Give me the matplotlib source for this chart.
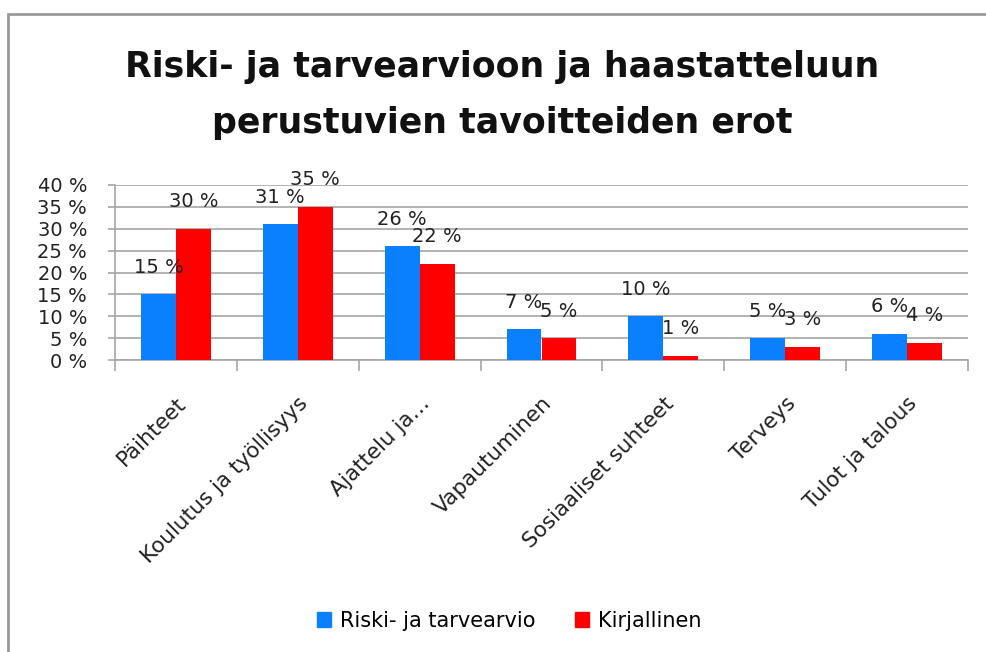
import matplotlib
matplotlib.use("Agg")
import matplotlib.pyplot as plt
from matplotlib.patches import Rectangle, Patch
import numpy as np

categories = ["Päihteet", "Koulutus ja työllisyys", "Ajattelu ja…", "Vapautuminen",
              "Sosiaaliset suhteet", "Terveys", "Tulot ja talous"]
riski = [15, 31, 26, 7, 10, 5, 6]
kirjallinen = [30, 35, 22, 5, 1, 3, 4]
series_names = ["Riski- ja tarvearvio", "Kirjallinen"]
yticks = [0, 5, 10, 15, 20, 25, 30, 35, 40]
title = "Riski- ja tarvearvioon ja haastatteluun\nperustuvien tavoitteiden erot"

BLUE = "#0A80FF"
RED = "#FF0000"
GRID = "#A6A6A6"

plt.rcParams["font.family"] = ["DejaVu Sans"]

W, H = 986, 652
fig = plt.figure(figsize=(W / 100, H / 100), dpi=100)

# outer frame
fig.patches.append(Rectangle((8 / W, -0.1), 1.2, 1 - 14 / H + 0.1, transform=fig.transFigure,
                             fill=False, edgecolor="#9A9A9A", linewidth=2))

ax = fig.add_axes([115 / W, 1 - 360 / H, (968 - 115) / W, (360 - 185) / H])

x = np.arange(len(categories))
bw = 0.287
b1 = ax.bar(x - bw / 2, riski, bw, color=BLUE, label=series_names[0], zorder=3)
b2 = ax.bar(x + bw / 2, kirjallinen, bw, color=RED, label=series_names[1], zorder=3)

for bars, vals in ((b1, riski), (b2, kirjallinen)):
    for rect, v in zip(bars, vals):
        ax.annotate(f"{v} %", (rect.get_x() + rect.get_width() / 2, v),
                    xytext=(0, 19.5), textcoords="offset points",
                    ha="center", va="center", fontsize=14, color="#222222", zorder=5)

ax.set_xlim(-0.5, len(categories) - 0.5)
ax.set_ylim(0, 40)
ax.set_yticks(yticks)
ax.set_yticklabels([f"{t} %" for t in yticks], fontsize=14, color="#222222")
ax.yaxis.grid(True, color=GRID, linewidth=1.2, zorder=0)
ax.tick_params(axis="y", length=5, color=GRID, pad=15, width=1.2)

ax.set_xticks(np.arange(len(categories) + 1) - 0.5)
ax.set_xticklabels([])
ax.tick_params(axis="x", which="major", length=8, color=GRID, width=1.2)
ax.set_xticks(x, minor=True)
ax.set_xticklabels(categories, minor=True, rotation=45, ha="right",
                   rotation_mode="anchor", fontsize=15.5, color="#222222")
ax.tick_params(axis="x", which="minor", length=0, pad=24)

for s in ("top", "right"):
    ax.spines[s].set_visible(False)
for s in ("left", "bottom"):
    ax.spines[s].set_color(GRID)
    ax.spines[s].set_linewidth(1.2)

fig.text(502 / W, 1 - 95 / H, title, ha="center", va="center", fontsize=25,
         fontweight="bold", linespacing=1.78, color="#111111")

handles = [Patch(color=BLUE), Patch(color=RED)]
fig.legend(handles, series_names, loc="center", bbox_to_anchor=(509 / W, 1 - 621 / H),
           ncol=2, frameon=False, fontsize=15, handlelength=0.7, handleheight=0.7,
           handletextpad=0.4, columnspacing=1.9)

fig.savefig("out.png", dpi=100, facecolor="white")
